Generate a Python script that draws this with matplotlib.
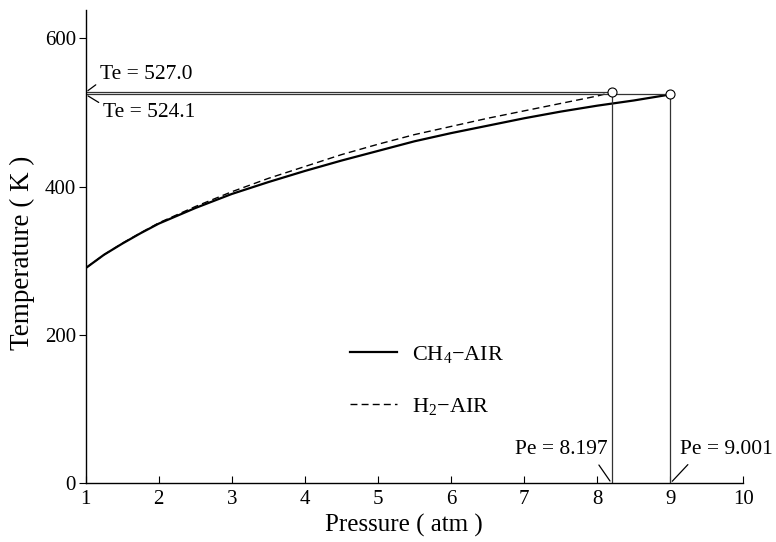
import matplotlib
matplotlib.use("Agg")
import matplotlib.pyplot as plt

plt.rcParams['font.family'] = ['Liberation Serif', 'DejaVu Serif']
plt.rcParams['mathtext.fontset'] = 'custom'
plt.rcParams['mathtext.rm'] = 'Liberation Serif'
plt.rcParams['mathtext.it'] = 'Liberation Serif:italic'

# ---- data ----
pressure_ch4 = [1.0, 1.25, 1.5, 1.75, 2.0, 2.5, 3.0, 3.5, 4.0, 4.5, 5.0, 5.5,
                6.0, 6.5, 7.0, 7.5, 8.0, 8.5, 9.001]
temp_ch4 = [290, 308, 323, 337, 350, 371, 390, 406, 421, 435, 448, 461,
            472, 482, 492, 501, 509, 516, 524.1]

pressure_h2 = [1.0, 1.25, 1.5, 1.75, 2.0, 2.5, 3.0, 3.5, 4.0, 4.5, 5.0, 5.5,
               6.0, 6.5, 7.0, 7.5, 8.0, 8.197]
temp_h2 = [290, 308, 323.5, 337.5, 351, 373, 393, 411, 427, 443, 457, 470,
           481, 492, 502, 512, 522, 527.0]

te_h2, pe_h2 = 527.0, 8.197
te_ch4, pe_ch4 = 524.1, 9.001

x_ticks = [1, 2, 3, 4, 5, 6, 7, 8, 9, 10]
y_ticks = [0, 200, 400, 600]

label_ch4 = "CH$_4$\u2212AIR"
label_h2 = "H$_2$\u2212AIR"

# ---- figure ----
fig = plt.figure(figsize=(7.76, 5.42), dpi=100)
ax = fig.add_axes([0.1104, 0.1083, 0.8475, 0.8733])
ax.set_xlim(1, 10)
ax.set_ylim(0, 638)

ax.plot(pressure_ch4, temp_ch4, color='black', lw=1.6, label=label_ch4)
ax.plot(pressure_h2, temp_h2, color='black', lw=1.0, dashes=(5, 3), label=label_h2)

# reference lines
ref_kw = dict(color='#333333', lw=0.9)
ax.plot([1, pe_h2], [te_h2, te_h2], **ref_kw)
ax.plot([1, pe_ch4], [te_ch4, te_ch4], **ref_kw)
ax.plot([pe_h2, pe_h2], [0, te_h2], **ref_kw)
ax.plot([pe_ch4, pe_ch4], [0, te_ch4], **ref_kw)

ax.plot([pe_h2, pe_ch4], [te_h2, te_ch4], linestyle='none', marker='o',
        markersize=6.5, markerfacecolor='white', markeredgecolor='black',
        markeredgewidth=0.8, zorder=5)

# annotations
fs_ann = 15.5
akw = dict(arrowstyle='-', color='black', lw=0.9)
ax.annotate(f"Te = {te_h2:.1f}", xy=(1, te_h2), xycoords='data',
            xytext=(14, 18), textcoords='offset pixels', ha='left', va='center',
            fontsize=fs_ann,
            arrowprops=dict(**akw, relpos=(0, 0.1), shrinkA=1, shrinkB=2))
ax.annotate(f"Te = {te_ch4:.1f}", xy=(1, te_ch4), xycoords='data',
            xytext=(17, -18), textcoords='offset pixels', ha='left', va='center',
            fontsize=fs_ann,
            arrowprops=dict(**akw, relpos=(0, 0.9), shrinkA=1, shrinkB=2))
ax.annotate(f"Pe = {pe_h2:.3f}", xy=(pe_h2, 0), xycoords='data',
            xytext=(-4, 34), textcoords='offset pixels', ha='right', va='center',
            fontsize=fs_ann,
            arrowprops=dict(**akw, relpos=(0.86, 0), shrinkA=3, shrinkB=2))
ax.annotate(f"Pe = {pe_ch4:.3f}", xy=(pe_ch4, 0), xycoords='data',
            xytext=(10, 34), textcoords='offset pixels', ha='left', va='center',
            fontsize=fs_ann,
            arrowprops=dict(**akw, relpos=(0.14, 0), shrinkA=3, shrinkB=2))

# legend
ax.legend(loc='upper left', bbox_to_anchor=(0.402, 0.294), frameon=False,
          fontsize=16, handlelength=2.1, handletextpad=0.7, labelspacing=1.4,
          borderpad=0, borderaxespad=0)

# axes styling
for s in ['top', 'right']:
    ax.spines[s].set_visible(False)
for s in ['left', 'bottom']:
    ax.spines[s].set_linewidth(1.0)

ax.set_xticks(x_ticks)
ax.set_yticks(y_ticks)
ax.tick_params(axis='x', direction='in', length=5, width=0.8, pad=5, labelsize=15)
ax.tick_params(axis='y', direction='out', length=5, width=0.8, pad=2, labelsize=15)

ax.set_xlabel("Pressure ( atm )", fontsize=18)
ax.set_ylabel("Temperature ( K )", fontsize=19.5)
ax.xaxis.set_label_coords(0.484, -0.064)
ax.yaxis.set_label_coords(-0.077, 0.4876)

fig.savefig("out.png", dpi=100)
